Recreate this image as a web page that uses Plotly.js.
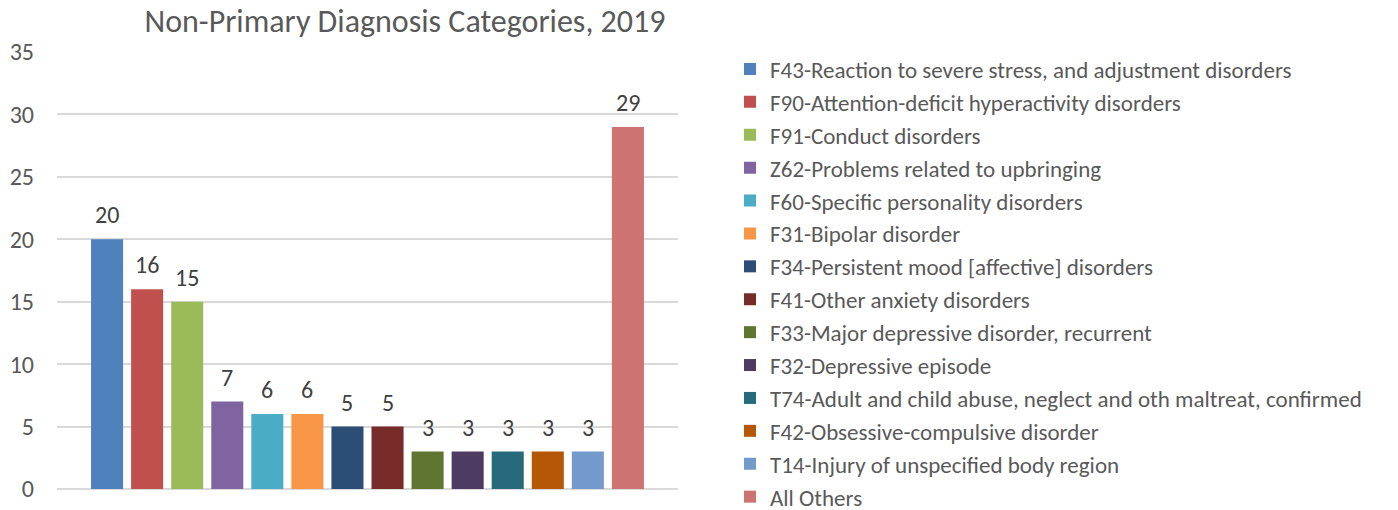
<!DOCTYPE html>
<html>
<head>
<meta charset="utf-8">
<script src="https://cdn.plot.ly/plotly-3.0.1.min.js"></script>
<style>
html,body{margin:0;padding:0;background:#fff;overflow:hidden;}
#chart{width:1398px;height:530px;}
</style>
</head>
<body>
<div id="chart"></div>
<script>
const categories = [
  "F43-Reaction to severe stress, and adjustment disorders",
  "F90-Attention-deficit hyperactivity disorders",
  "F91-Conduct disorders",
  "Z62-Problems related to upbringing",
  "F60-Specific personality disorders",
  "F31-Bipolar disorder",
  "F34-Persistent mood [affective] disorders",
  "F41-Other anxiety disorders",
  "F33-Major depressive disorder, recurrent",
  "F32-Depressive episode",
  "T74-Adult and child abuse, neglect and oth maltreat, confirmed",
  "F42-Obsessive-compulsive disorder",
  "T14-Injury of unspecified body region",
  "All Others"
];
const values = [20, 16, 15, 7, 6, 6, 5, 5, 3, 3, 3, 3, 3, 29];
const colors = [
  "#4F81BD", "#C0504D", "#9BBB59", "#8064A2", "#4BACC6", "#F79646",
  "#2C4D75", "#772C2A", "#5F7530", "#4D3B62", "#276A7C", "#B65708",
  "#729ACA", "#CD7371"
];
const yTicks = [0, 5, 10, 15, 20, 25, 30, 35];
const titleText = "Non-Primary Diagnosis Categories, 2019";

const FONT = "Carlito, Lato, sans-serif";

const traces = categories.map((c, i) => ({
  type: "bar",
  name: c,
  x: [c],
  y: [values[i]],
  width: 0.8,
  marker: {color: colors[i], line: {width: 0}},
  hoverinfo: "name+y"
}));

const annotations = categories.map((c, i) => ({
  x: c,
  y: values[i],
  xref: "x",
  yref: "y",
  text: String(values[i]),
  showarrow: false,
  yanchor: "bottom",
  yshift: 8,
  font: {family: FONT, size: 24, color: "#404040"}
}));

const layout = {
  width: 1398,
  height: 530,
  paper_bgcolor: "#ffffff",
  plot_bgcolor: "#ffffff",
  margin: {l: 57, r: 720, t: 52, b: 41, pad: 0},
  barmode: "overlay",
  title: {
    text: titleText,
    x: (405 - 57) / 621,
    xref: "paper",
    xanchor: "center",
    y: 1 - 21 / 530,
    yref: "container",
    yanchor: "middle",
    font: {family: FONT, size: 32, color: "#595959"}
  },
  xaxis: {
    type: "category",
    categoryorder: "array",
    categoryarray: categories,
    range: [-1.25, 14.25],
    showticklabels: false,
    showgrid: false,
    zeroline: false,
    showline: false,
    ticks: "",
    fixedrange: true
  },
  yaxis: {
    range: [0, 35],
    tickvals: yTicks,
    ticktext: yTicks.map(String),
    showgrid: true,
    gridcolor: "#D9D9D9",
    gridwidth: 2,
    zeroline: true,
    zerolinecolor: "#D9D9D9",
    zerolinewidth: 2,
    showline: false,
    ticks: "",
    ticklabelstandoff: 22,
    tickfont: {family: FONT, size: 24, color: "#595959"},
    fixedrange: true
  },
  showlegend: true,
  legend: {
    x: (730 - 57) / 621,
    xanchor: "left",
    y: 1 + 4.5 / 437,
    yanchor: "top",
    yref: "paper",
    maxheight: 600,
    font: {family: FONT, size: 23, color: "#595959"},
    traceorder: "normal",
    bgcolor: "rgba(0,0,0,0)",
    borderwidth: 0
  },
  annotations: annotations
};

Plotly.newPlot("chart", traces, layout, {displayModeBar: false, staticPlot: true});
</script>
</body>
</html>
